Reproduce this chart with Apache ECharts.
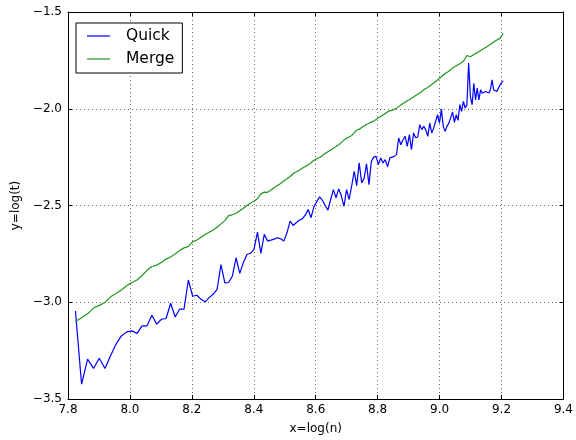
<!DOCTYPE html>
<html>
<head>
<meta charset="utf-8">
<script src="https://cdn.jsdelivr.net/npm/echarts@6/dist/echarts.min.js"></script>
<style>
  html, body { margin: 0; padding: 0; background: #fff; }
  #chart { width: 576px; height: 440px; }
</style>
</head>
<body>
<div id="chart"></div>
<script>
// problem sizes n, plotted as x = log(n)
var sizes = [
  2500, 2550, 2600, 2650, 2700, 2750, 2800, 2850, 2900, 2950,
  3000, 3050, 3100, 3150, 3200, 3250, 3300, 3350, 3400, 3450,
  3500, 3550, 3600, 3650, 3700, 3750, 3800, 3850, 3900, 3950,
  4000, 4050, 4100, 4150, 4200, 4250, 4300, 4350, 4400, 4450,
  4500, 4550, 4600, 4650, 4700, 4750, 4800, 4850, 4900, 4950,
  5000, 5050, 5100, 5150, 5200, 5250, 5300, 5350, 5400, 5450,
  5500, 5550, 5600, 5650, 5700, 5750, 5800, 5850, 5900, 5950,
  6000, 6050, 6100, 6150, 6200, 6250, 6300, 6350, 6400, 6450,
  6500, 6550, 6600, 6650, 6700, 6750, 6800, 6850, 6900, 6950,
  7000, 7050, 7100, 7150, 7200, 7250, 7300, 7350, 7400, 7450,
  7500, 7550, 7600, 7650, 7700, 7750, 7800, 7850, 7900, 7950,
  8000, 8050, 8100, 8150, 8200, 8250, 8300, 8350, 8400, 8450,
  8500, 8550, 8600, 8650, 8700, 8750, 8800, 8850, 8900, 8950,
  9000, 9050, 9100, 9150, 9200, 9250, 9300, 9350, 9400, 9450,
  9500, 9550, 9600, 9650, 9700, 9750, 9800, 9850, 9900, 9950
];

// y = log(t)
var quickTimes = [
  -3.045, -3.423, -3.294, -3.342, -3.289, -3.342, -3.277, -3.216, -3.174, -3.153,
  -3.148, -3.161, -3.122, -3.122, -3.067, -3.113, -3.088, -3.084, -3.005, -3.076,
  -3.036, -3.036, -2.885, -2.969, -2.964, -2.985, -2.998, -2.976, -2.959, -2.933,
  -2.806, -2.900, -2.898, -2.864, -2.770, -2.851, -2.795, -2.753, -2.747, -2.727,
  -2.638, -2.747, -2.649, -2.684, -2.679, -2.674, -2.667, -2.672, -2.684, -2.641,
  -2.581, -2.603, -2.589, -2.576, -2.569, -2.550, -2.521, -2.563, -2.507, -2.480,
  -2.455, -2.473, -2.500, -2.524, -2.469, -2.418, -2.460, -2.414, -2.450, -2.504,
  -2.418, -2.469, -2.400, -2.323, -2.397, -2.280, -2.383, -2.360, -2.285, -2.392,
  -2.272, -2.250, -2.246, -2.289, -2.254, -2.280, -2.263, -2.300, -2.254, -2.250,
  -2.246, -2.237, -2.151, -2.186, -2.160, -2.143, -2.194, -2.134, -2.211, -2.125,
  -2.150, -2.146, -2.082, -2.108, -2.091, -2.110, -2.143, -2.074, -2.125, -2.100,
  -2.091, -2.031, -2.074, -2.002, -2.091, -2.117, -2.090, -2.074, -2.065, -2.017,
  -2.070, -2.031, -2.060, -1.979, -2.014, -1.962, -1.996, -1.980, -1.764, -1.937,
  -1.979, -1.868, -1.954, -1.893, -1.954, -1.902, -1.920, -1.928, -1.911, -1.902,
  -1.919, -1.900, -1.851, -1.902, -1.911, -1.911, -1.905, -1.876, -1.865, -1.856
];

var mergeTimes = [
  -3.100, -3.080, -3.060, -3.030, -3.016, -3.001, -2.972, -2.955, -2.937, -2.915,
  -2.898, -2.885, -2.862, -2.835, -2.815, -2.808, -2.795, -2.777, -2.766, -2.750,
  -2.733, -2.719, -2.711, -2.688, -2.678, -2.664, -2.650, -2.638, -2.627, -2.612,
  -2.595, -2.578, -2.552, -2.548, -2.540, -2.527, -2.514, -2.500, -2.487, -2.478,
  -2.465, -2.440, -2.431, -2.432, -2.420, -2.408, -2.397, -2.386, -2.373, -2.362,
  -2.350, -2.336, -2.326, -2.318, -2.308, -2.298, -2.290, -2.279, -2.266, -2.258,
  -2.252, -2.242, -2.231, -2.222, -2.213, -2.204, -2.195, -2.186, -2.175, -2.162,
  -2.152, -2.146, -2.138, -2.125, -2.110, -2.107, -2.097, -2.089, -2.081, -2.075,
  -2.069, -2.064, -2.055, -2.047, -2.040, -2.032, -2.024, -2.016, -2.011, -2.007,
  -2.003, -1.997, -1.989, -1.981, -1.973, -1.966, -1.959, -1.953, -1.946, -1.939,
  -1.932, -1.925, -1.918, -1.911, -1.901, -1.896, -1.890, -1.882, -1.876, -1.867,
  -1.860, -1.851, -1.843, -1.835, -1.825, -1.818, -1.812, -1.806, -1.800, -1.790,
  -1.783, -1.778, -1.773, -1.767, -1.761, -1.755, -1.746, -1.725, -1.718, -1.731,
  -1.726, -1.720, -1.716, -1.710, -1.705, -1.699, -1.693, -1.689, -1.684, -1.678,
  -1.672, -1.667, -1.661, -1.655, -1.650, -1.645, -1.640, -1.635, -1.628, -1.610
];

var seriesNames = ['Quick', 'Merge'];
var seriesColors = ['#0000ff', '#1e961e'];

function toPoints(values) {
  var pts = [];
  for (var i = 0; i < sizes.length; i++) {
    pts.push([Math.log(sizes[i]), values[i]]);
  }
  return pts;
}

// matplotlib style minus sign
function tickLabel(v) {
  return v.toFixed(1).replace('-', '\u2212');
}

var font = 'DejaVu Sans';

function xAxisOf(pos, showLabels) {
  return {
    type: 'value',
    position: pos,
    min: 7.8,
    max: 9.4,
    interval: 0.2,
    name: showLabels ? 'x=log(n)' : '',
    nameLocation: 'middle',
    nameGap: 24,
    nameTextStyle: { color: '#000', fontSize: 12, fontFamily: font },
    axisLine: { show: true, onZero: false, lineStyle: { color: '#000', width: 1 } },
    axisTick: { show: true, inside: true, length: 4, lineStyle: { color: '#000' } },
    axisLabel: { show: showLabels, color: '#000', fontSize: 12, fontFamily: font, margin: 5,
      formatter: tickLabel },
    splitLine: { show: showLabels, lineStyle: { color: '#000', width: 0.6, type: [1, 3] } }
  };
}

function yAxisOf(pos, showLabels) {
  return {
    type: 'value',
    position: pos,
    min: -3.5,
    max: -1.5,
    interval: 0.5,
    name: showLabels ? 'y=log(t)' : '',
    nameLocation: 'middle',
    nameGap: 42,
    nameTextStyle: { color: '#000', fontSize: 12, fontFamily: font },
    axisLine: { show: true, onZero: false, lineStyle: { color: '#000', width: 1 } },
    axisTick: { show: true, inside: true, length: 4, lineStyle: { color: '#000' } },
    axisLabel: { show: showLabels, color: '#000', fontSize: 12, fontFamily: font, margin: 6,
      formatter: tickLabel },
    splitLine: { show: showLabels, lineStyle: { color: '#000', width: 0.6, type: [1, 3] } }
  };
}

var series = [];
[quickTimes, mergeTimes].forEach(function (vals, i) {
  series.push({
    name: seriesNames[i],
    type: 'line',
    data: toPoints(vals),
    symbol: 'none',
    smooth: false,
    lineStyle: { color: seriesColors[i], width: 1.2 },
    itemStyle: { color: seriesColors[i] },
    emphasis: { disabled: true },
    z: 3
  });
});

let option = {
  animation: false,
  backgroundColor: '#fff',
  textStyle: { fontFamily: font },
  grid: { left: 68, right: 10, top: 12, bottom: 40 },
  legend: {
    show: true,
    data: seriesNames,
    orient: 'vertical',
    left: 76,
    top: 23,
    z: 10,
    backgroundColor: '#fff',
    borderColor: '#000',
    borderWidth: 1,
    borderRadius: 0,
    padding: [5, 8, 6, 11],
    icon: 'rect',
    itemWidth: 23,
    itemHeight: 1.2,
    itemGap: 7,
    textStyle: { color: '#000', fontSize: 15.5, fontFamily: font, padding: [0, 0, 0, 11] }
  },
  xAxis: [xAxisOf('bottom', true), xAxisOf('top', false)],
  yAxis: [yAxisOf('left', true), yAxisOf('right', false)],
  series: series
};

var myChart = echarts.init(document.getElementById('chart'));
myChart.setOption(option);
</script>
</body>
</html>
